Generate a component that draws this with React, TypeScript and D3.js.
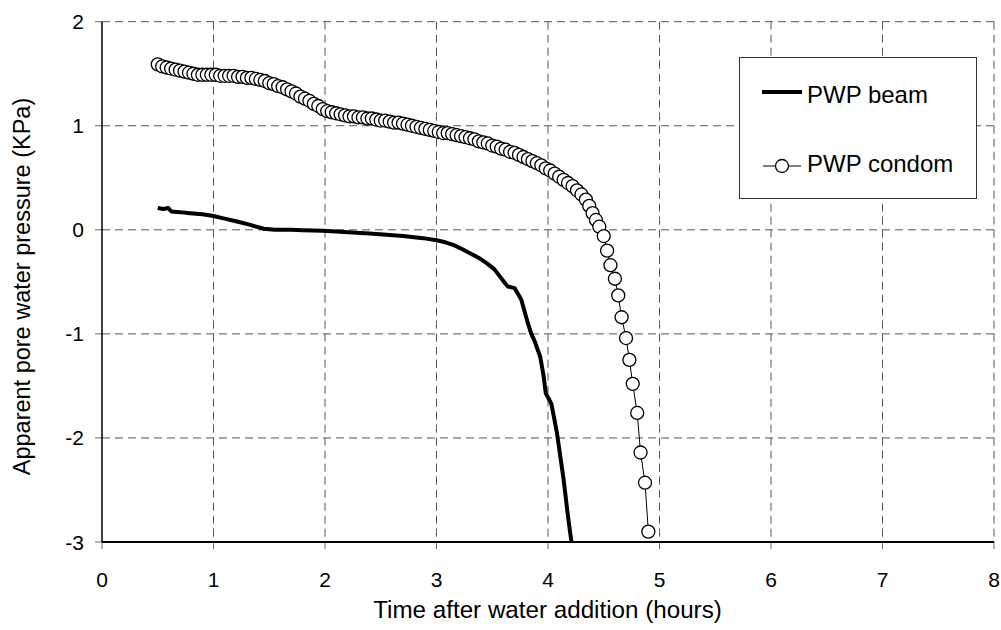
import React from "react";
import * as d3 from "d3";

const xTicks = [0, 1, 2, 3, 4, 5, 6, 7, 8];
const yTicks = [2, 1, 0, -1, -2, -3];

const beamTime = [0.5, 0.55, 0.595, 0.61, 0.624, 0.7, 0.79, 0.9, 1.0, 1.09, 1.21, 1.33, 1.45, 1.55, 1.69, 1.8, 1.98, 2.1, 2.28, 2.4, 2.58, 2.7, 2.88, 3.0, 3.08, 3.15, 3.22, 3.3, 3.38, 3.45, 3.52, 3.57, 3.62, 3.64, 3.7, 3.76, 3.82, 3.85, 3.88, 3.93, 3.96, 3.98, 4.03, 4.08, 4.14, 4.18, 4.21, 4.23];
const beamPwp = [0.21, 0.2, 0.21, 0.19, 0.175, 0.17, 0.16, 0.15, 0.133, 0.11, 0.08, 0.047, 0.01, 0.0, 0.0, -0.005, -0.01, -0.015, -0.027, -0.035, -0.05, -0.06, -0.08, -0.1, -0.12, -0.145, -0.18, -0.225, -0.27, -0.32, -0.38, -0.45, -0.52, -0.545, -0.56, -0.67, -0.9, -1.0, -1.07, -1.22, -1.4, -1.57, -1.67, -1.95, -2.4, -2.76, -3.0, -3.2];

const condomTime = [0.5, 0.54, 0.58, 0.62, 0.66, 0.7, 0.74, 0.78, 0.82, 0.86, 0.9, 0.94, 0.98, 1.02, 1.06, 1.1, 1.14, 1.18, 1.22, 1.26, 1.3, 1.34, 1.38, 1.42, 1.46, 1.5, 1.54, 1.58, 1.62, 1.66, 1.7, 1.74, 1.78, 1.82, 1.86, 1.9, 1.94, 1.98, 2.02, 2.06, 2.1, 2.14, 2.18, 2.22, 2.26, 2.3, 2.34, 2.38, 2.42, 2.46, 2.5, 2.54, 2.58, 2.62, 2.66, 2.7, 2.74, 2.78, 2.82, 2.86, 2.9, 2.94, 2.98, 3.02, 3.06, 3.1, 3.14, 3.18, 3.22, 3.26, 3.3, 3.34, 3.38, 3.42, 3.46, 3.5, 3.54, 3.58, 3.62, 3.66, 3.7, 3.74, 3.78, 3.82, 3.86, 3.9, 3.94, 3.98, 4.02, 4.06, 4.1, 4.14, 4.18, 4.22, 4.26, 4.3, 4.34, 4.37, 4.4, 4.43, 4.46, 4.5, 4.53, 4.56, 4.6, 4.63, 4.66, 4.7, 4.73, 4.76, 4.8, 4.83, 4.87, 4.9];
const condomPwp = [1.59, 1.57, 1.56, 1.55, 1.54, 1.53, 1.52, 1.51, 1.5, 1.49, 1.49, 1.49, 1.49, 1.49, 1.48, 1.48, 1.48, 1.48, 1.47, 1.47, 1.46, 1.46, 1.45, 1.44, 1.43, 1.41, 1.4, 1.38, 1.37, 1.35, 1.33, 1.31, 1.28, 1.26, 1.24, 1.21, 1.19, 1.16, 1.14, 1.13, 1.12, 1.11, 1.1, 1.09, 1.09, 1.08, 1.08, 1.07, 1.07, 1.06, 1.05, 1.05, 1.04, 1.03, 1.03, 1.02, 1.01, 1.0, 0.99, 0.98, 0.97, 0.96, 0.95, 0.94, 0.93, 0.93, 0.92, 0.91, 0.9, 0.89, 0.88, 0.87, 0.85, 0.84, 0.83, 0.81, 0.8, 0.78, 0.77, 0.75, 0.74, 0.72, 0.7, 0.68, 0.66, 0.64, 0.62, 0.59, 0.57, 0.54, 0.51, 0.48, 0.45, 0.42, 0.38, 0.34, 0.29, 0.23, 0.16, 0.095, 0.03, -0.06, -0.2, -0.34, -0.47, -0.63, -0.84, -1.04, -1.25, -1.48, -1.76, -2.14, -2.43, -2.9];

const seriesNames = ["PWP beam", "PWP condom"];
const xTitle = "Time after water addition (hours)";
const yTitle = "Apparent pore water pressure (KPa)";

export default function App() {
  const W = 1001, H = 630;
  const left = 102, right = 994, top = 21.7, bottom = 542;
  const x = d3.scaleLinear().domain([0, 8]).range([left, right]);
  const y = d3.scaleLinear().domain([-3, 2]).range([bottom, top]);
  const font = "Liberation Sans, Arial, sans-serif";

  const beamPts: [number, number][] = beamTime.map((t, i) => [t, beamPwp[i]]);
  const condomPts: [number, number][] = condomTime.map((t, i) => [t, condomPwp[i]]);
  const line = d3.line<[number, number]>().x(d => x(d[0])).y(d => y(d[1]));

  return (
    <svg width={W} height={H} style={{ position: "absolute", left: 0, top: 0, background: "#fff" }}>
      <defs>
        <clipPath id="plotclip">
          <rect x={left} y={top - 10} width={right - left + 10} height={bottom - top + 10} />
        </clipPath>
      </defs>
      <rect x={0} y={0} width={W} height={H} fill="#fff" />
      {/* grid */}
      {xTicks.filter(t => t > 0).map(t => (
        <line key={"gx" + t} x1={x(t)} x2={x(t)} y1={top} y2={bottom} stroke="#555" strokeWidth={1} strokeDasharray="8,5" />
      ))}
      {yTicks.filter(t => t > -3).map(t => (
        <line key={"gy" + t} x1={left} x2={right} y1={y(t)} y2={y(t)} stroke="#555" strokeWidth={1} strokeDasharray="8,5" />
      ))}
      {/* ticks */}
      {xTicks.map(t => (
        <line key={"tx" + t} x1={x(t)} x2={x(t)} y1={bottom} y2={bottom + 7} stroke="#666" strokeWidth={1} />
      ))}
      {yTicks.map(t => (
        <line key={"ty" + t} x1={left - 7} x2={left} y1={y(t)} y2={y(t)} stroke="#666" strokeWidth={1} />
      ))}
      {/* axes */}
      <line x1={left} x2={left} y1={top} y2={bottom} stroke="#000" strokeWidth={1.5} />
      <line x1={left} x2={right} y1={bottom} y2={bottom} stroke="#000" strokeWidth={2} />
      {/* tick labels */}
      {xTicks.map(t => (
        <text key={"lx" + t} x={x(t)} y={587} textAnchor="middle" fontFamily={font} fontSize={21} fill="#000">{t}</text>
      ))}
      {yTicks.map(t => (
        <text key={"ly" + t} x={84} y={y(t) + 7.5} textAnchor="end" fontFamily={font} fontSize={21} fill="#000">{t}</text>
      ))}
      {/* titles */}
      <text x={547.5} y={618} textAnchor="middle" fontFamily={font} fontSize={24.2} fill="#000">{xTitle}</text>
      <text transform={`translate(30,286.5) rotate(-90)`} textAnchor="middle" fontFamily={font} fontSize={23.5} fill="#000">{yTitle}</text>
      {/* series */}
      <g clipPath="url(#plotclip)">
        <path d={line(beamPts) || ""} fill="none" stroke="#000" strokeWidth={4} strokeLinejoin="round" />
        <path d={line(condomPts) || ""} fill="none" stroke="#000" strokeWidth={1} />
        {condomPts.map((p, i) => (
          <circle key={"c" + i} cx={x(p[0])} cy={y(p[1])} r={6.5} fill="#fff" stroke="#000" strokeWidth={1.3} />
        ))}
      </g>
      {/* legend */}
      <rect x={739.5} y={57.5} width={237} height={141} fill="#fff" stroke="#333" strokeWidth={1} />
      <line x1={762} x2={802} y1={92} y2={92} stroke="#000" strokeWidth={4} />
      <text x={807} y={103} fontFamily={font} fontSize={24} fill="#000">{seriesNames[0]}</text>
      <line x1={763} x2={801} y1={166} y2={166} stroke="#000" strokeWidth={1} />
      <circle cx={782} cy={166} r={6.5} fill="#fff" stroke="#000" strokeWidth={1.3} />
      <text x={807} y={172} fontFamily={font} fontSize={24} fill="#000">{seriesNames[1]}</text>
    </svg>
  );
}
